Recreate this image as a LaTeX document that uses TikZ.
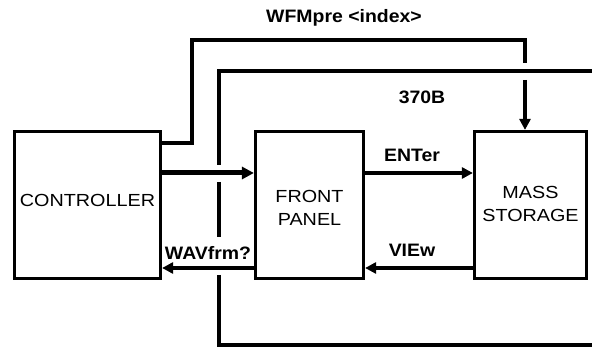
\documentclass[tikz,border=0pt]{standalone}
\usepackage{graphicx}
\usepackage{fontspec}
\setmainfont{Liberation Sans}
\usetikzlibrary{arrows.meta}
\newcommand\hsx[1]{\scalebox{1.13}[1]{#1}}
\newcommand\hsy[1]{\scalebox{1.08}[1]{#1}}
\begin{document}
\begin{tikzpicture}[x=1pt,y=-1pt,
  box/.style={draw, line width=3.2pt, inner sep=0pt},
  boxtext/.style={font=\fontsize{17.5}{23}\selectfont, align=center},
  sig/.style={line width=3.1pt},
  arr/.style={sig, -{Triangle[length=11pt,width=11pt]}},
  lbl/.style={font=\fontsize{18}{22}\selectfont\bfseries, inner sep=0pt}]
\useasboundingbox (0,0) rectangle (592,347);
% boxes
\node[box, minimum width=146pt, minimum height=147pt,
      label={[boxtext,yshift=5pt]center:\hsx{CONTROLLER}}] (ctrl) at (87.5,205) {};
\node[box, minimum width=108pt, minimum height=147pt,
      label={[boxtext,yshift=-3pt]center:{\hsx{FRONT}\\\hsx{PANEL}}}] (fp) at (309.5,205) {};
\node[box, minimum width=112pt, minimum height=147pt,
      label={[boxtext,yshift=1.5pt]center:{\hsx{MASS}\\\hsx{STORAGE}}}] (ms) at (530.5,205) {};
% labels
\node[lbl] (lw) at (344,18) {\hsy{WFMpre <index>}};
\node[lbl] (lb) at (422,97) {\hsy{370B}};
\node[lbl] (le) at (412,155) {\hsy{ENTer}};
\node[lbl] (lv) at (412,250) {\hsy{VIEw}};
\node[lbl] (lq) at (208,253) {\hsy{WAVfrm?}};
% WFMpre connector
\coordinate (wA) at (192,143);
\coordinate (wB) at (525,40);
\coordinate (wC) at (525,63);
\coordinate (wD) at (525,80);
\draw[sig] (wA -| ctrl.east) -- (wA) |- (wB) -- (wC);
\draw[arr] (wD) -- (wD |- ms.north);
% 370B boundary
\coordinate (bA) at (219,165);
\coordinate (bB) at (219,71);
\coordinate (bC) at (592,71);
\coordinate (bD) at (219,182);
\coordinate (bE) at (219,237);
\coordinate (bF) at (219,275);
\coordinate (bG) at (219,345);
\coordinate (bH) at (592,345);
\draw[sig] (bA) -- (bB) -- (bC);
\draw[sig] (bD) -- (bE);
\draw[sig] (bF) -- (bG) -- (bH);
% arrows
\coordinate (r1) at (0,173);
\coordinate (r2) at (0,268);
\draw[sig, line width=5pt, -{Triangle[length=12pt,width=12pt]}] (ctrl.east |- r1) -- (fp.west |- r1);
\draw[arr] (fp.east |- r1) -- (ms.west |- r1);
\draw[arr] (ms.west |- r2) -- (fp.east |- r2);
\draw[arr] (fp.west |- r2) -- (ctrl.east |- r2);
\end{tikzpicture}
\end{document}
